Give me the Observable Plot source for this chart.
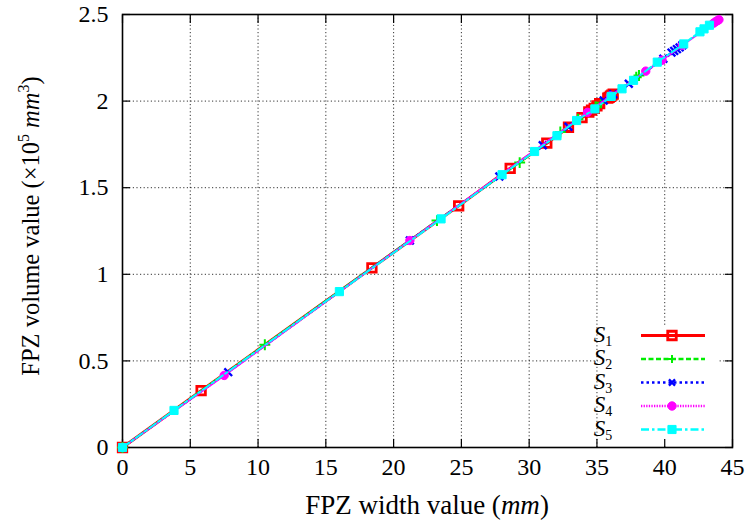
<!DOCTYPE html>
<html>
<head>
<meta charset="utf-8">
<script src="https://cdn.jsdelivr.net/npm/d3@7"></script>
<script src="https://cdn.jsdelivr.net/npm/@observablehq/plot@0.6"></script>
<style>
  html, body { margin: 0; padding: 0; background: #fff; }
  #chart { width: 751px; height: 525px; }
</style>
</head>
<body>
<div id="chart"></div>
<script>
// ---- data (FPZ width in mm, FPZ volume in 1e5 mm^3) ----
const seriesNames = ["S1", "S2", "S3", "S4", "S5"];
const s1X = [0, 5.8, 18.4, 24.8, 28.6, 31.3, 32.9, 33.9, 34.4, 34.6, 34.8, 35.0, 35.2, 35.8, 35.9, 36.0, 36.1, 36.2];
const s1Y = [0, 0.328, 1.037, 1.395, 1.612, 1.757, 1.849, 1.905, 1.937, 1.948, 1.958, 1.972, 1.985, 2.017, 2.022, 2.028, 2.035, 2.040];
const s2X = [0, 10.5, 23.2, 29.3, 32.3, 33.6, 34.9, 35.3, 37.9, 38.1];
const s2Y = [0, 0.593, 1.31, 1.645, 1.822, 1.895, 1.967, 1.99, 2.138, 2.148];
const s3X = [0, 7.8, 21.2, 27.8, 31.0, 32.9, 35.5, 36.2, 37.35, 39.9, 40.5, 40.7, 40.9, 41.1, 41.3];
const s3Y = [0, 0.435, 1.195, 1.565, 1.745, 1.852, 2.003, 2.04, 2.10, 2.244, 2.28, 2.29, 2.30, 2.31, 2.322];
const s4X = [0, 7.5, 21.2, 34.3, 36.0, 38.6, 39.8, 41.3, 43.6, 43.75, 43.9, 44.0];
const s4Y = [0, 0.416, 1.195, 1.935, 2.03, 2.173, 2.236, 2.322, 2.45, 2.458, 2.465, 2.47];
const s5X = [0, 3.8, 16.0, 23.5, 28.0, 30.4, 32.05, 33.5, 34.85, 36.05, 36.85, 37.7, 39.45, 41.4, 42.6, 42.9, 43.3];
const s5Y = [0, 0.214, 0.90, 1.32, 1.575, 1.709, 1.80, 1.888, 1.955, 2.027, 2.071, 2.12, 2.225, 2.33, 2.40, 2.417, 2.438];
const xTicks = [0, 5, 10, 15, 20, 25, 30, 35, 40, 45];
const yTicks = [0, 0.5, 1, 1.5, 2, 2.5];
const xGrid = [5, 10, 15, 20, 25, 30, 35, 40];
const yGrid = [0.5, 1, 1.5, 2];

// ---- styles ----
const styles = [
  {color: "#ff0000", dash: null, width: 3, symbol: "square", fill: "none", r: 4.8, sw: 2.8},
  {color: "#00ee00", dash: "5,2.5", width: 2, symbol: "plus", fill: "none", r: 3.6, sw: 2},
  {color: "#0000ff", dash: "2.5,3", width: 2, symbol: "times", fill: "none", r: 3.6, sw: 2.4},
  {color: "#ff00ff", dash: "1.3,1.3", width: 2, symbol: "circle", fill: "#ff00ff", r: 4.2, sw: 1},
  {color: "#00ffff", dash: "8,3,2.5,3", width: 2, symbol: "square", fill: "#00ffff", r: 4.6, sw: 1}
];
const xs = [s1X, s2X, s3X, s4X, s5X];
const ys = [s1Y, s2Y, s3Y, s4Y, s5Y];
const series = seriesNames.map((name, i) => xs[i].map((x, j) => ({series: name, x, y: ys[i][j]})));

const FONT = "'Liberation Serif', 'DejaVu Serif', serif";

const seriesMarks = series.flatMap((data, i) => {
  const s = styles[i];
  return [
    Plot.line(data, {x: "x", y: "y", stroke: s.color, strokeWidth: s.width, strokeDasharray: s.dash, strokeLinejoin: "round"}),
    Plot.dot(data, {x: "x", y: "y", symbol: () => s.symbol, r: s.r, stroke: s.color, strokeWidth: s.sw,
      fill: s.fill === "none" ? "none" : s.fill})
  ];
});

const chart = Plot.plot({
  width: 751, height: 525,
  marginLeft: 122, marginRight: 19, marginTop: 14, marginBottom: 78,
  style: {fontFamily: FONT, fontSize: "24px", background: "#fff", color: "#000"},
  x: {domain: [0, 45]},
  y: {domain: [0, 2.5]},
  marks: [
    Plot.gridX(xGrid, {stroke: "#000", strokeOpacity: 0.8, strokeDasharray: "1.2,2.4", strokeWidth: 1}),
    Plot.gridY(yGrid, {stroke: "#000", strokeOpacity: 0.8, strokeDasharray: "1.2,2.4", strokeWidth: 1}),
    Plot.axisX(xTicks, {anchor: "bottom", tickSize: -8, tickFormat: () => "", label: null, strokeWidth: 1.2}),
    Plot.axisX(xTicks, {anchor: "top", tickSize: -8, tickFormat: () => "", label: null, strokeWidth: 1.2}),
    Plot.axisY(yTicks, {anchor: "left", tickSize: -8, tickFormat: () => "", label: null, strokeWidth: 1.2}),
    Plot.axisY(yTicks, {anchor: "right", tickSize: -8, tickFormat: () => "", label: null, strokeWidth: 1.2}),
    Plot.axisX(xTicks, {anchor: "bottom", tickSize: 0, tickPadding: 10, label: null, tickFormat: d => String(d)}),
    Plot.axisY(yTicks, {anchor: "left", tickSize: 0, tickPadding: 14, label: null, tickFormat: d => String(d)}),
    Plot.frame({stroke: "#000", strokeWidth: 1.6}),
    ...seriesMarks
  ]
});
document.getElementById("chart").appendChild(chart);

// ---- axis titles with italic / superscript parts ----
const svg = d3.select(chart);
const xl = svg.append("text")
  .attr("x", 427).attr("y", 514).attr("text-anchor", "middle")
  .style("font-family", FONT).style("font-size", "27px").attr("fill", "#000");
xl.append("tspan").text("FPZ width value (");
xl.append("tspan").attr("font-style", "italic").text("mm");
xl.append("tspan").text(")");

const yl = svg.append("text")
  .attr("transform", "translate(39,226) rotate(-90)").attr("text-anchor", "middle")
  .style("font-family", FONT).style("font-size", "24.5px").attr("fill", "#000");
yl.append("tspan").text("FPZ volume value (×10");
yl.append("tspan").attr("dy", -10).attr("font-size", "16px").text("5");
yl.append("tspan").attr("dy", 10).text(" ");
yl.append("tspan").attr("font-style", "italic").text("mm");
yl.append("tspan").attr("dy", -10).attr("font-size", "16px").text("3");
yl.append("tspan").attr("dy", 10).text(")");

// ---- legend (inside the plot, lower right), drawn under the ticks ----
const leg = svg.insert("g", '[aria-label="x-axis tick"]');
leg.append("rect").attr("x", 598).attr("y", 325).attr("width", 120).attr("height", 121).attr("fill", "#fff");
const sym = {square: d3.symbolSquare, plus: d3.symbolCross, times: d3.symbolTimes, circle: d3.symbolCircle};
seriesNames.forEach((name, i) => {
  const s = styles[i];
  const cy = 335.5 + i * 23.5;
  const t = leg.append("text").attr("x", 603).attr("y", cy + 6)
    .style("font-family", FONT).style("font-size", "23px").attr("fill", "#000");
  t.append("tspan").attr("font-style", "italic").text(name[0]);
  t.append("tspan").attr("dy", 4).attr("font-size", "14px").text(name.slice(1));
  leg.append("line").attr("x1", 641).attr("x2", 705).attr("y1", cy).attr("y2", cy)
    .attr("stroke", s.color).attr("stroke-width", i === 0 ? 3 : 2.4)
    .attr("stroke-dasharray", s.dash);
  const area = Math.PI * s.r * s.r;
  let gen = d3.symbol(sym[s.symbol], area);
  if (s.symbol === "plus") gen = d3.symbol({draw(c, size) { const r = Math.sqrt(size / Math.PI) * 1.1; c.moveTo(-r, 0); c.lineTo(r, 0); c.moveTo(0, -r); c.lineTo(0, r); }}, area);
  if (s.symbol === "times") gen = d3.symbol({draw(c, size) { const r = Math.sqrt(size / Math.PI) * 0.85; c.moveTo(-r, -r); c.lineTo(r, r); c.moveTo(r, -r); c.lineTo(-r, r); }}, area);
  leg.append("path").attr("d", gen()).attr("transform", `translate(672,${cy})`)
    .attr("stroke", s.color).attr("stroke-width", s.sw)
    .attr("fill", s.fill);
});
</script>
</body>
</html>
